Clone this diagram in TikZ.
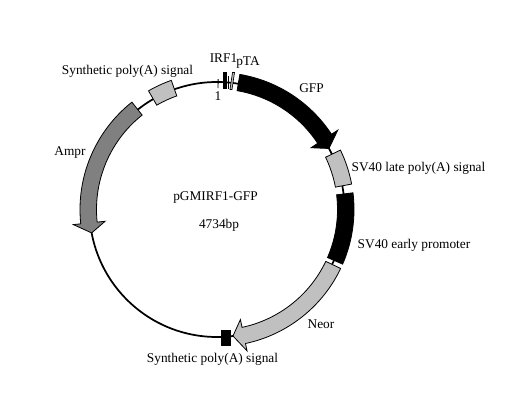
\documentclass[tikz,border=0pt]{standalone}
\usepackage{fontspec}
\setmainfont{Liberation Serif}
\definecolor{featgray}{RGB}{192, 192, 192}
\definecolor{amprgray}{RGB}{128, 128, 128}

% arc block: start angle, end angle
\newcommand{\featbox}[3][]{%
  \draw[feat, #1] (#2:120.5) arc[start angle=#2, end angle=#3, radius=120.5]
    -- (#3:137) arc[start angle=#3, end angle=#2, radius=137] -- cycle;}
% arc arrow: start angle, head base angle, tip angle
\newcommand{\featarrow}[4][]{%
  \draw[feat, #1] (#2:120.5) arc[start angle=#2, end angle=#3, radius=120.5]
    -- (#3:112.5) -- (#4:127.5) -- (#3:144.5) -- (#3:137)
    arc[start angle=#3, end angle=#2, radius=137] -- cycle;}

\begin{document}
\begin{tikzpicture}[
  x=0.75pt, y=0.75pt,
  every node/.style={font=\fontsize{10pt}{12pt}\selectfont, inner sep=0pt},
  feat/.style={draw=black, line width=0.6pt, line join=miter},
  backbone/.style={draw=black, line width=1.3pt}
]
\useasboundingbox[fill=white] (0,0) rectangle (516,400);

% plasmid circle
\begin{scope}[shift={(217,190.5)}]
  \draw[backbone] (0,0) circle[radius=127.5];

  % features
  \featarrow[fill=black]{80.4}{33.3}{28.6}
  \featbox[fill=featgray]{25.7}{10.7}
  \featbox[fill=black]{7}{-23.5}
  \featarrow[fill=featgray]{-25.5}{-78}{-82.8}
  \fill[black] (4,-120) rectangle (14,-136);
  \featarrow[fill=amprgray]{128.4}{186}{190.6}
  \featbox[fill=featgray]{109.5}{120}

  % IRF1 and pTA marks, origin tick
  \fill[black] (6,120.5) rectangle (10,137);
  \fill[black] (10.8,120.5) rectangle (12.4,133);
  \draw[draw=black, fill=featgray, line width=0.5pt]
    (13,120) -- (15,120) -- (17.5,137) -- (15.5,137) -- cycle;
  \draw[black, line width=0.6pt] (89.5:121.5) -- (89.5:130.5);
\end{scope}

% labels
\node (irf)   at (223.5,342) {IRF1};
\node (pta)   at (248,337) {pTA};
\node (gfp)   at (311.5,312) {GFP};
\node (one)   at (218,304) {1};
\node (synA)  at (127.5,329) {Synthetic poly(A) signal};
\node (late)  at (418.5,232) {SV40 late poly(A) signal};
\node (early) at (414,155) {SV40 early promoter};
\node (neor)  at (321,75.5) {Neor};
\node (ampr)  at (70,247.5) {Ampr};
\node (name)  at (215.5,202) {pGMIRF1-GFP};
\node (size)  at (219,175) {4734bp};
\node (synB)  at (212.5,41) {Synthetic poly(A) signal};

\end{tikzpicture}
\end{document}
